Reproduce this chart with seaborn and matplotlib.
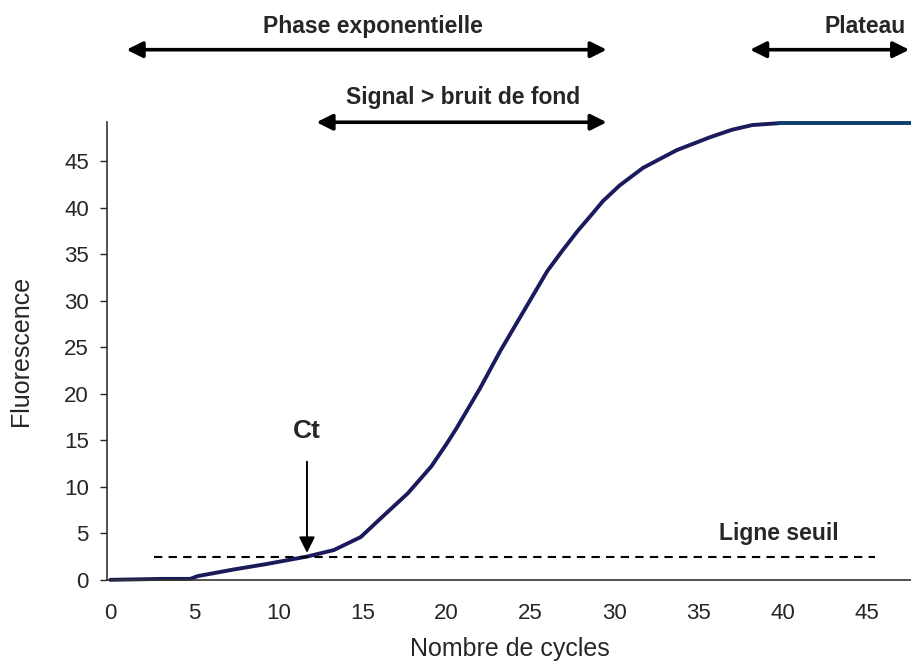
import seaborn as sns
import matplotlib.pyplot as plt
import pandas as pd

# courbe d'amplification
cycles = [0, 3.1, 4.75, 5.2, 7.3, 9.3, 11.7, 13.3, 14.9, 16.2, 17.7, 19.1,
          20.0, 20.6, 22.0, 23.2, 24.6, 26.0, 26.9, 27.8, 28.7, 29.3, 30.3,
          31.7, 33.7, 35.7, 37.0, 38.2, 39.8]
fluo = [0, 0.1, 0.1, 0.4, 1.1, 1.7, 2.5, 3.2, 4.6, 6.8, 9.3, 12.2,
        14.6, 16.3, 20.6, 24.6, 28.9, 33.2, 35.4, 37.5, 39.4, 40.7, 42.4,
        44.3, 46.2, 47.6, 48.4, 48.9, 49.1]
plateau_x = [39.8, 47.7]
plateau_y = [49.1, 49.1]

seuil_x = [2.6, 45.5]
seuil_y = [2.5, 2.5]
ct = 11.7

yticks = [0, 5, 10, 15, 20, 25, 30, 35, 40, 45]
xticks = [0, 5, 10, 15, 20, 25, 30, 35, 40, 45]

sns.set_style("white")
plt.rcParams["font.family"] = ["Liberation Sans", "DejaVu Sans"]

fig = plt.figure(figsize=(9.12, 6.68), dpi=100)
ax = fig.add_axes([0.1173, 0.132, 0.8827, 0.685])

df = pd.DataFrame({"Nombre de cycles": cycles, "Fluorescence": fluo})
sns.lineplot(data=df, x="Nombre de cycles", y="Fluorescence", ax=ax,
             color="#1b1a5c", linewidth=2.8, clip_on=False)
ax.plot(plateau_x, plateau_y, color="#0d3d70", linewidth=2.8, clip_on=False)

# ligne seuil
ax.plot(seuil_x, seuil_y, color="black", linewidth=1.5, linestyle=(0, (4, 3)))
ax.text(39.8, 4.3, "Ligne seuil", fontsize=16.5, fontweight="bold", ha="center", va="baseline")

# Ct
ax.annotate("", xy=(ct, 2.6), xytext=(ct, 13.0),
            arrowprops=dict(arrowstyle="-|>", color="black", lw=1.4, mutation_scale=24))
ax.text(ct, 15.2, "Ct", fontsize=19, fontweight="bold", ha="center", va="baseline")

# fleches des phases
fleche = dict(arrowstyle="<|-|>", color="black", lw=2.6, mutation_scale=24)
ax.annotate("", xy=(0.8, 57.0), xytext=(29.7, 57.0), arrowprops=fleche, annotation_clip=False)
ax.annotate("", xy=(12.1, 49.2), xytext=(29.7, 49.2), arrowprops=fleche, annotation_clip=False)
ax.annotate("", xy=(37.9, 57.0), xytext=(47.7, 57.0), arrowprops=fleche, annotation_clip=False)
ax.text(15.6, 58.8, "Phase exponentielle", fontsize=16.5, fontweight="bold",
        ha="center", va="baseline", clip_on=False)
ax.text(21.0, 51.2, "Signal > bruit de fond", fontsize=16.5, fontweight="bold",
        ha="center", va="baseline", clip_on=False)
ax.text(42.5, 58.8, "Plateau", fontsize=16.5, fontweight="bold",
        ha="left", va="baseline", clip_on=False)

ax.set_xlim(-0.2, 47.7)
ax.set_ylim(0, 49.2)
ax.set_xticks(xticks)
ax.set_yticks(yticks)
ax.tick_params(axis="x", length=0, labelsize=16, pad=17)
ax.tick_params(axis="y", length=5, width=1, labelsize=16, left=True, direction="out", pad=8)
ax.set_xlabel("Nombre de cycles", fontsize=18, labelpad=9)
ax.set_ylabel("Fluorescence", fontsize=18, labelpad=22)
sns.despine(ax=ax)
for s in ["left", "bottom"]:
    ax.spines[s].set_color("#333333")
    ax.spines[s].set_linewidth(1.2)

fig.savefig("out.png", dpi=100)
